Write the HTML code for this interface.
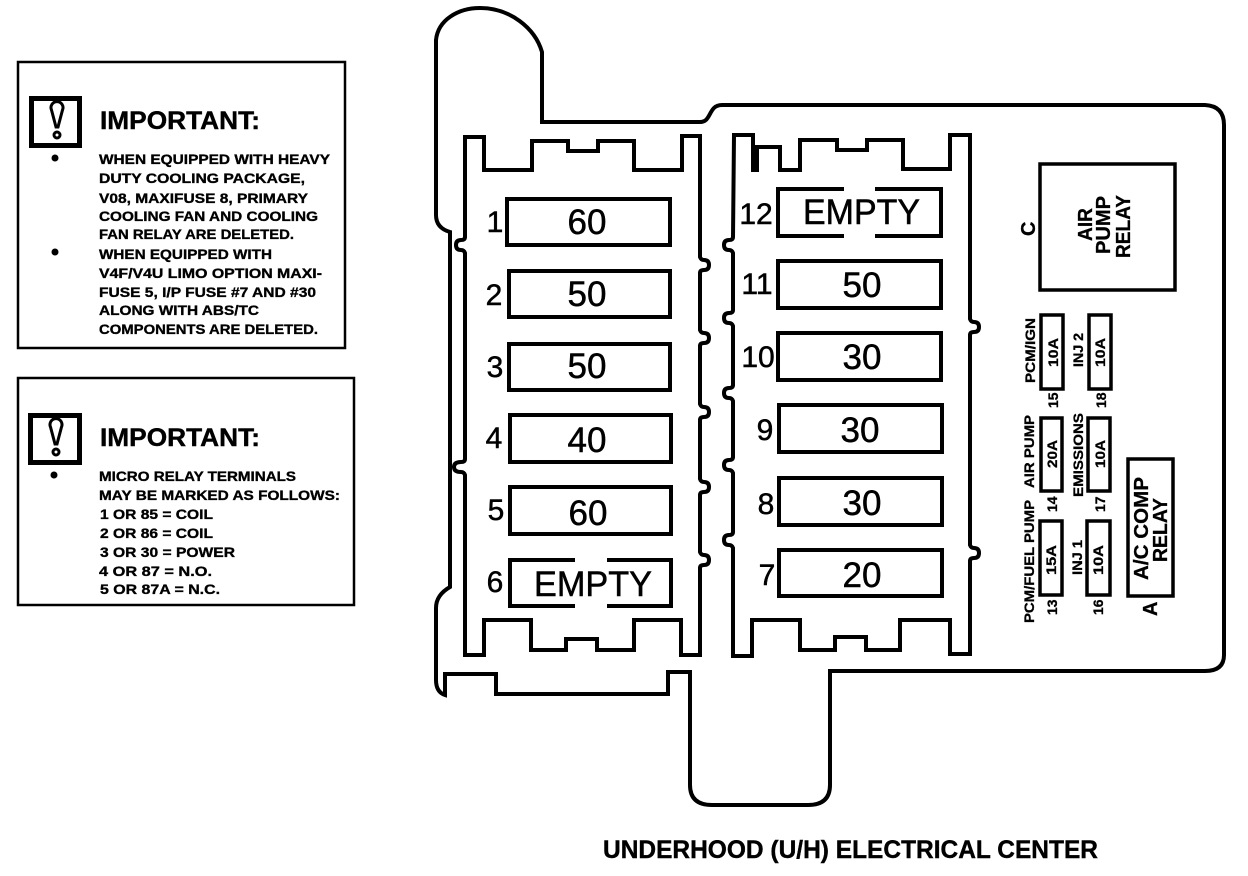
<!DOCTYPE html>
<html lang="en">
<head>
<meta charset="utf-8">
<title>Underhood Electrical Center</title>
<style>
html,body{margin:0;padding:0;background:#fff}
svg{display:block}
text{font-family:"Liberation Sans",sans-serif;fill:#000}
.s{font-weight:bold;font-size:14px;stroke:#000;stroke-width:.35px}
.h{font-weight:bold;font-size:25px;stroke:#000;stroke-width:.4px}
.n{font-size:35px;stroke:#000;stroke-width:.5px;text-anchor:middle}
.l{font-size:30px;stroke:#000;stroke-width:.5px;text-anchor:middle}
.r{font-weight:bold;font-size:14px;stroke:#000;stroke-width:.3px}
.rr{font-weight:bold;font-size:20px;stroke:#000;stroke-width:.3px}
.ln{fill:none;stroke:#000;stroke-width:4;stroke-linejoin:miter}
.th{fill:none;stroke:#000;stroke-width:3.5}
</style>
</head>
<body>
<svg xmlns="http://www.w3.org/2000/svg" width="1248" height="876" viewBox="0 0 1248 876">
<rect width="1248" height="876" fill="#fff"/>

<!-- Note box 1 -->
<rect x="18" y="62" width="327" height="286" class="th" style="stroke-width:2.5"/>
<rect x="31.500" y="98.500" width="48" height="47" fill="none" stroke="#000" stroke-width="5"/>
<path d="M51.500 110a6 6 0 1 1 11 0l-4.500 17h-2z" fill="#fff" stroke="#000" stroke-width="3"/>
<circle cx="57" cy="135" r="3" fill="#fff" stroke="#000" stroke-width="3"/>
<circle cx="55" cy="158" r="3.500"/>
<circle cx="55" cy="252" r="3.500"/>
<text x="100" y="129" class="h" textLength="160" lengthAdjust="spacingAndGlyphs">IMPORTANT:</text>
<text x="99" y="164" class="s" textLength="231" lengthAdjust="spacingAndGlyphs">WHEN EQUIPPED WITH HEAVY</text>
<text x="99" y="183" class="s" textLength="206" lengthAdjust="spacingAndGlyphs">DUTY COOLING PACKAGE,</text>
<text x="99" y="203" class="s" textLength="209" lengthAdjust="spacingAndGlyphs">V08, MAXIFUSE 8, PRIMARY</text>
<text x="99" y="221" class="s" textLength="219" lengthAdjust="spacingAndGlyphs">COOLING FAN AND COOLING</text>
<text x="99" y="239" class="s" textLength="195" lengthAdjust="spacingAndGlyphs">FAN RELAY ARE DELETED.</text>
<text x="99" y="259" class="s" textLength="173" lengthAdjust="spacingAndGlyphs">WHEN EQUIPPED WITH</text>
<text x="99" y="278" class="s" textLength="223" lengthAdjust="spacingAndGlyphs">V4F/V4U LIMO OPTION MAXI-</text>
<text x="99" y="297" class="s" textLength="217" lengthAdjust="spacingAndGlyphs">FUSE 5, I/P FUSE #7 AND #30</text>
<text x="99" y="315" class="s" textLength="160" lengthAdjust="spacingAndGlyphs">ALONG WITH ABS/TC</text>
<text x="99" y="334" class="s" textLength="219" lengthAdjust="spacingAndGlyphs">COMPONENTS ARE DELETED.</text>

<!-- Note box 2 -->
<rect x="18" y="378" width="336" height="227" class="th" style="stroke-width:2.500"/>
<rect x="30.500" y="415.500" width="49" height="47" fill="none" stroke="#000" stroke-width="5"/>
<path d="M50.500 427a6 6 0 1 1 11 0l-4.500 17h-2z" fill="#fff" stroke="#000" stroke-width="3"/>
<circle cx="56" cy="452" r="3" fill="#fff" stroke="#000" stroke-width="3"/>
<circle cx="54" cy="475" r="3.500"/>
<text x="100" y="446" class="h" textLength="160" lengthAdjust="spacingAndGlyphs">IMPORTANT:</text>
<text x="99" y="481" class="s" textLength="197" lengthAdjust="spacingAndGlyphs">MICRO RELAY TERMINALS</text>
<text x="99" y="500" class="s" textLength="241" lengthAdjust="spacingAndGlyphs">MAY BE MARKED AS FOLLOWS:</text>
<text x="100" y="519" class="s" textLength="113" lengthAdjust="spacingAndGlyphs">1 OR 85 = COIL</text>
<text x="100" y="538" class="s" textLength="113" lengthAdjust="spacingAndGlyphs">2 OR 86 = COIL</text>
<text x="100" y="557" class="s" textLength="135" lengthAdjust="spacingAndGlyphs">3 OR 30 = POWER</text>
<text x="99" y="576" class="s" textLength="113" lengthAdjust="spacingAndGlyphs">4 OR 87 = N.O.</text>
<text x="100" y="594" class="s" textLength="120" lengthAdjust="spacingAndGlyphs">5 OR 87A = N.C.</text>

<!-- Outer housing -->
<path class="ln" d="M436 40C438 20 458 8 480 8C510 8 535 28 542 52V122H700C712 122 708 105 722 105H1205Q1224 106 1224 125V655Q1224 671 1205 671H830V785Q830 805 808 805H712Q690 805 690 785V672H668V694H496V674H445V695Q436 692 436 680V608Q436 595 450 587V232Q436 228 436 215Z"/>

<!-- Left fuse panel -->
<path class="ln" d="M465 137H484V170H532V141H568V151H598V141H634V170H682V136H700
V257q1 3 4 3q5 0 5 5q0 5 -5 5q-4 0 -4 3
V330q1 3 4 3q5 0 5 5q0 5 -5 5q-4 0 -4 3
V404q1 3 4 3q5 0 5 5q0 5 -5 5q-4 0 -4 3
V479q1 3 4 3q5 0 5 5q0 5 -5 5q-4 0 -4 3
V552q1 3 4 3q5 0 5 5q0 5 -5 5q-4 0 -4 3
V655H681V620H634V650H597V639H566V650H531V620H484V655H465
V475q-1 -3 -4 -3q-7 0 -7 -5q0 -5 7 -5q4 0 4 -3
V253q-1 -3 -4 -3q-5 0 -5 -5q0 -5 5 -5q4 0 4 -3Z"/>

<!-- Right fuse panel -->
<path class="ln" d="M734 135H753V170H757V147H780V170H800V140H837V150H867V140H903V169H950V135H970
V319q1 3 4 3q5 0 5 5q0 5 -5 5q-4 0 -4 3
V545q1 3 4 3q5 0 5 5q0 5 -5 5q-4 0 -4 3
V654H950V620H900V650H866V637H835V650H800V620H752V656H733
V548q-1 -3 -4 -3q-5 0 -5 -5q0 -5 5 -5q4 0 4 -3
V473q-1 -3 -4 -3q-5 0 -5 -5q0 -5 5 -5q4 0 4 -3
V401q-1 -3 -4 -3q-5 0 -5 -5q0 -5 5 -5q4 0 4 -3
V326q-1 -3 -4 -3q-5 0 -5 -5q0 -5 5 -5q4 0 4 -3
V253q-1 -3 -4 -3q-5 0 -5 -5q0 -5 5 -5q4 0 4 -3Z"/>

<!-- Left fuses -->
<rect class="ln" x="507" y="199" width="163" height="46"/>
<rect class="ln" x="509" y="271" width="161" height="46"/>
<rect class="ln" x="509" y="344" width="161" height="46"/>
<rect class="ln" x="510" y="415" width="161" height="47"/>
<rect class="ln" x="510" y="487" width="161" height="47"/>
<path class="ln" d="M575 560H510V606H575M607 606H671V560H607"/>

<text x="587" y="234" class="n">60</text>
<text x="587" y="306" class="n">50</text>
<text x="587" y="378" class="n">50</text>
<text x="587" y="452" class="n">40</text>
<text x="588" y="525" class="n">60</text>
<text x="534" y="596" class="n" style="text-anchor:start" textLength="118" lengthAdjust="spacingAndGlyphs">EMPTY</text>

<text x="495" y="232" class="l">1</text>
<text x="494" y="305" class="l">2</text>
<text x="495" y="377" class="l">3</text>
<text x="494" y="448" class="l">4</text>
<text x="496" y="520" class="l">5</text>
<text x="495" y="592" class="l">6</text>

<!-- Right fuses -->
<path class="ln" d="M844 189H778V236H844M875 236H941V189H875"/>
<rect class="ln" x="778" y="261" width="163" height="47"/>
<rect class="ln" x="778" y="333" width="163" height="47"/>
<rect class="ln" x="779" y="405" width="163" height="47"/>
<rect class="ln" x="779" y="478" width="163" height="47"/>
<rect class="ln" x="779" y="550" width="163" height="46"/>

<text x="803" y="224" class="n" style="text-anchor:start" textLength="117" lengthAdjust="spacingAndGlyphs">EMPTY</text>
<text x="862" y="297" class="n">50</text>
<text x="862" y="369" class="n">30</text>
<text x="860" y="442" class="n">30</text>
<text x="862" y="515" class="n">30</text>
<text x="862" y="587" class="n">20</text>

<text x="756" y="224" class="l">12</text>
<text x="757" y="294" class="l">11</text>
<text x="758" y="367" class="l">10</text>
<text x="765" y="440" class="l">9</text>
<text x="766" y="514" class="l">8</text>
<text x="767" y="585" class="l">7</text>

<!-- Air pump relay -->
<rect class="th" x="1040" y="164" width="135" height="126"/>
<text class="rr" transform="translate(1035,236) rotate(-90)">C</text>
<text class="rr" transform="translate(1092,241) rotate(-90)" textLength="33" lengthAdjust="spacingAndGlyphs">AIR</text>
<text class="rr" transform="translate(1110,254) rotate(-90)" textLength="58" lengthAdjust="spacingAndGlyphs">PUMP</text>
<text class="rr" transform="translate(1130,258) rotate(-90)" textLength="63" lengthAdjust="spacingAndGlyphs">RELAY</text>

<!-- Small fuses -->
<rect class="th" x="1041" y="315" width="22" height="74"/>
<rect class="th" x="1089" y="315" width="22" height="74"/>
<rect class="th" x="1041" y="418" width="21" height="73"/>
<rect class="th" x="1088" y="418" width="22" height="73"/>
<rect class="th" x="1040" y="521" width="22" height="74"/>
<rect class="th" x="1087" y="521" width="23" height="74"/>
<rect class="th" x="1128" y="459" width="45" height="137"/>

<text class="r" transform="translate(1058,367) rotate(-90)" textLength="29" lengthAdjust="spacingAndGlyphs">10A</text>
<text class="r" transform="translate(1105,367) rotate(-90)" textLength="29" lengthAdjust="spacingAndGlyphs">10A</text>
<text class="r" transform="translate(1057,468) rotate(-90)" textLength="28" lengthAdjust="spacingAndGlyphs">20A</text>
<text class="r" transform="translate(1105,468) rotate(-90)" textLength="28" lengthAdjust="spacingAndGlyphs">10A</text>
<text class="r" transform="translate(1056,575) rotate(-90)" textLength="30" lengthAdjust="spacingAndGlyphs">15A</text>
<text class="r" transform="translate(1103,575) rotate(-90)" textLength="30" lengthAdjust="spacingAndGlyphs">10A</text>

<text class="r" transform="translate(1035,383) rotate(-90)" textLength="65" lengthAdjust="spacingAndGlyphs">PCM/IGN</text>
<text class="r" transform="translate(1083,367) rotate(-90)" textLength="34" lengthAdjust="spacingAndGlyphs">INJ 2</text>
<text class="r" transform="translate(1034,488) rotate(-90)" textLength="73" lengthAdjust="spacingAndGlyphs">AIR PUMP</text>
<text class="r" transform="translate(1083,497) rotate(-90)" textLength="84" lengthAdjust="spacingAndGlyphs">EMISSIONS</text>
<text class="r" transform="translate(1034,623) rotate(-90)" textLength="123" lengthAdjust="spacingAndGlyphs">PCM/FUEL PUMP</text>
<text class="r" transform="translate(1082,575) rotate(-90)" textLength="35" lengthAdjust="spacingAndGlyphs">INJ 1</text>

<text class="r" transform="translate(1058,408) rotate(-90)">15</text>
<text class="r" transform="translate(1106,408) rotate(-90)">18</text>
<text class="r" transform="translate(1057,512) rotate(-90)">14</text>
<text class="r" transform="translate(1105,512) rotate(-90)">17</text>
<text class="r" transform="translate(1057,615) rotate(-90)">13</text>
<text class="r" transform="translate(1103,615) rotate(-90)">16</text>

<text class="rr" transform="translate(1157,616) rotate(-90)">A</text>
<text class="rr" transform="translate(1148,580) rotate(-90)" textLength="103" lengthAdjust="spacingAndGlyphs">A/C COMP</text>
<text class="rr" transform="translate(1167,562) rotate(-90)" textLength="64" lengthAdjust="spacingAndGlyphs">RELAY</text>

<!-- Caption -->
<text x="603" y="858" class="h" textLength="495" lengthAdjust="spacingAndGlyphs">UNDERHOOD (U/H) ELECTRICAL CENTER</text>
</svg>
</body>
</html>
